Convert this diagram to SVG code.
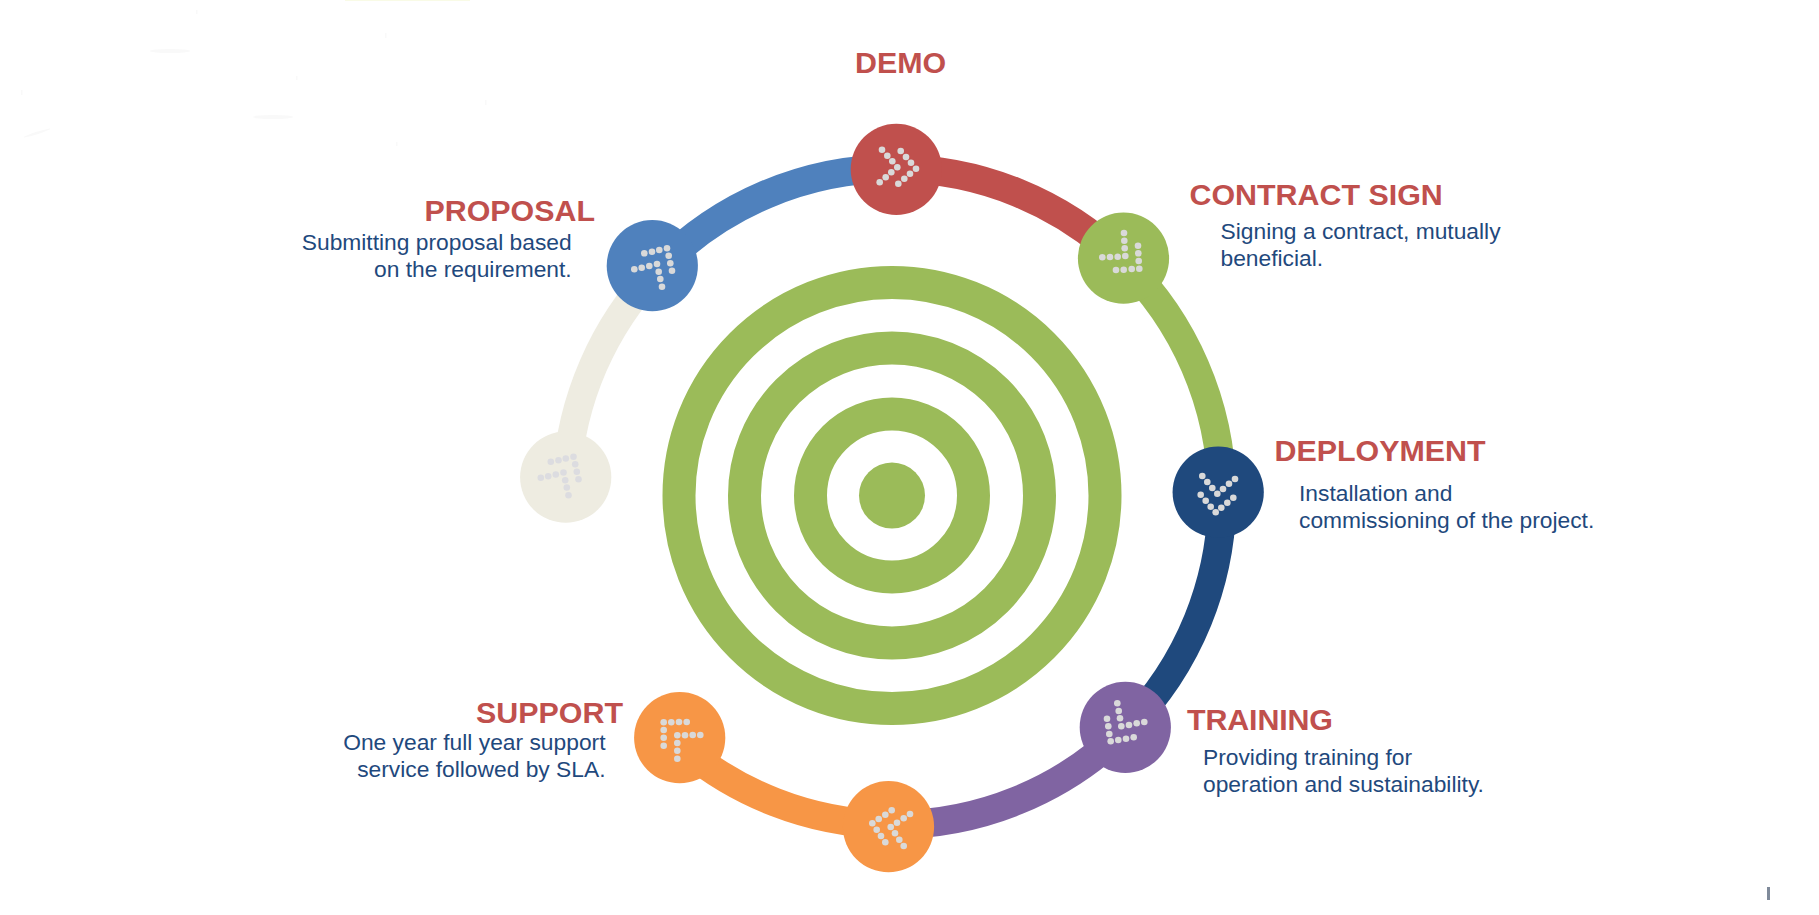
<svg xmlns="http://www.w3.org/2000/svg" xmlns:xlink="http://www.w3.org/1999/xlink" width="1819" height="915" viewBox="0 0 1819 915">
<style>
text{font-family:"Liberation Sans",Arial,sans-serif}
.t{font-size:30.4px;font-weight:700;fill:#c0504d}
.b{font-size:22.8px;fill:#1f497d}
.e{text-anchor:end}
.arc{fill:none;stroke-width:28.7}
.ring{fill:none;stroke:#9bbb59;stroke-width:33}
.dots{fill:#d9d9d9}
</style>
<defs>
<g id="dots-proposal"><circle cx="634.3" cy="269.3" r="3.3"/><circle cx="641.7" cy="267.7" r="3.3"/><circle cx="649.3" cy="266" r="3.3"/><circle cx="657" cy="264" r="3.3"/><circle cx="658.7" cy="271.7" r="3.3"/><circle cx="660.3" cy="279" r="3.3"/><circle cx="662" cy="286.7" r="3.3"/><circle cx="644.3" cy="253.3" r="3.3"/><circle cx="652" cy="251.7" r="3.3"/><circle cx="659.3" cy="250" r="3.3"/><circle cx="667" cy="248.3" r="3.3"/><circle cx="668.7" cy="255.7" r="3.3"/><circle cx="670.3" cy="263.3" r="3.3"/><circle cx="672" cy="270.7" r="3.3"/></g>
</defs>
<rect width="1819" height="915" fill="#fff"/>
<g id="paper-marks" fill="#f9f9f9">
<ellipse cx="170" cy="51" rx="20" ry="2"/>
<ellipse cx="273" cy="117" rx="20" ry="2"/>
<ellipse cx="37" cy="133" rx="14" ry="1.2" transform="rotate(-18 37 133)"/>
<rect x="196" y="10" width="1.5" height="4"/>
<rect x="296" y="76" width="1.5" height="4"/>
<rect x="385" y="33" width="1.5" height="5"/>
<rect x="485" y="100" width="1.5" height="5"/>
<rect x="396" y="142" width="1.5" height="4"/>
<rect x="21" y="90" width="1.5" height="5"/>
</g>
<g id="rings">
<circle class="ring" cx="892" cy="495.5" r="213"/>
<circle class="ring" cx="892" cy="495.5" r="147.5"/>
<circle class="ring" cx="892" cy="495.5" r="81.5"/>
<circle cx="892" cy="495.5" r="33" fill="#9bbb59"/>
</g>
<g id="connectors">
<path class="arc" stroke="#eeece1" d="M656.8 270A328 328 0 0 0 566.6 477.3"/>
<path class="arc" stroke="#4f81bd" d="M896.3 168.5A328 328 0 0 0 656.8 270"/>
<path class="arc" stroke="#c0504d" d="M896.3 168.5A328 328 0 0 1 1121.5 260.2"/>
<path class="arc" stroke="#9bbb59" d="M1121.5 260.2A328 328 0 0 1 1222 492.1"/>
<path class="arc" stroke="#1f497d" d="M1222 492.1A328 328 0 0 1 1126.2 728.2"/>
<path class="arc" stroke="#8064a2" d="M1126.2 728.2A328 328 0 0 1 888.5 824.5"/>
<path class="arc" stroke="#f79646" d="M888.5 824.5A328 328 0 0 1 676.1 741.7"/>
</g>
<g id="node-start">
<circle cx="565.7" cy="477.2" r="45.6" fill="#eeece1"/>
<use xlink:href="#dots-proposal" href="#dots-proposal" transform="translate(-93.5 208.5)" fill="#dcdce0"/>
</g>
<g id="node-proposal">
<circle cx="652.3" cy="265.7" r="45.6" fill="#4f81bd"/>
<use xlink:href="#dots-proposal" href="#dots-proposal" class="dots"/>
<text class="t e" x="595" y="221.2">PROPOSAL</text>
<text class="b e" x="571.7" y="249.8">Submitting proposal based</text>
<text class="b e" x="571.7" y="277">on the requirement.</text>
</g>
<g id="node-demo">
<circle cx="896.3" cy="169.3" r="45.6" fill="#c0504d"/>
<g class="dots"><circle cx="882" cy="149.7" r="3.3"/><circle cx="887.3" cy="155.7" r="3.3"/><circle cx="892.3" cy="161.3" r="3.3"/><circle cx="897.3" cy="167.3" r="3.3"/><circle cx="891.3" cy="172.3" r="3.3"/><circle cx="885.7" cy="177.3" r="3.3"/><circle cx="879.7" cy="182.3" r="3.3"/><circle cx="900.7" cy="151" r="3.3"/><circle cx="906" cy="157" r="3.3"/><circle cx="911" cy="162.7" r="3.3"/><circle cx="916" cy="168.7" r="3.3"/><circle cx="910" cy="173.7" r="3.3"/><circle cx="904.3" cy="178.7" r="3.3"/><circle cx="898.3" cy="183.7" r="3.3"/></g>
<text class="t" x="855" y="73.3">DEMO</text>
</g>
<g id="node-contract">
<circle cx="1123.5" cy="258.2" r="45.6" fill="#9bbb59"/>
<g class="dots"><circle cx="1124" cy="233" r="3.3"/><circle cx="1124.3" cy="240.7" r="3.3"/><circle cx="1124.7" cy="248.3" r="3.3"/><circle cx="1125.3" cy="256" r="3.3"/><circle cx="1117.7" cy="256.7" r="3.3"/><circle cx="1110" cy="257" r="3.3"/><circle cx="1102.3" cy="257.3" r="3.3"/><circle cx="1138" cy="245.7" r="3.3"/><circle cx="1138.3" cy="253.3" r="3.3"/><circle cx="1138.7" cy="261" r="3.3"/><circle cx="1139.3" cy="268.7" r="3.3"/><circle cx="1131.7" cy="269" r="3.3"/><circle cx="1123.7" cy="269.7" r="3.3"/><circle cx="1116" cy="270" r="3.3"/></g>
<text class="t" x="1189.5" y="205">CONTRACT SIGN</text>
<text class="b" x="1220.5" y="239">Signing a contract, mutually</text>
<text class="b" x="1220.5" y="266">beneficial.</text>
</g>
<g id="node-deployment">
<circle cx="1218.2" cy="492.2" r="45.6" fill="#1f497d"/>
<g class="dots"><circle cx="1202.3" cy="476" r="3.3"/><circle cx="1207.3" cy="482" r="3.3"/><circle cx="1212.3" cy="488" r="3.3"/><circle cx="1217.3" cy="493.7" r="3.3"/><circle cx="1223" cy="489" r="3.3"/><circle cx="1229" cy="483.7" r="3.3"/><circle cx="1235" cy="479" r="3.3"/><circle cx="1200.7" cy="494.7" r="3.3"/><circle cx="1205.7" cy="500.7" r="3.3"/><circle cx="1210.7" cy="506.7" r="3.3"/><circle cx="1215.7" cy="512.3" r="3.3"/><circle cx="1221.3" cy="507.7" r="3.3"/><circle cx="1227.3" cy="502.7" r="3.3"/><circle cx="1233.3" cy="497.7" r="3.3"/></g>
<text class="t" x="1274.5" y="461.2">DEPLOYMENT</text>
<text class="b" x="1299" y="501">Installation and</text>
<text class="b" x="1299" y="528">commissioning of the project.</text>
</g>
<g id="node-training">
<circle cx="1125.3" cy="727.3" r="45.6" fill="#8064a2"/>
<g class="dots"><circle cx="1117.3" cy="703.3" r="3.3"/><circle cx="1118.7" cy="711" r="3.3"/><circle cx="1120" cy="718.3" r="3.3"/><circle cx="1121.3" cy="726.3" r="3.3"/><circle cx="1129" cy="725" r="3.3"/><circle cx="1136.7" cy="723.3" r="3.3"/><circle cx="1144.3" cy="722" r="3.3"/><circle cx="1107" cy="718.7" r="3.3"/><circle cx="1108.3" cy="726.3" r="3.3"/><circle cx="1109.3" cy="734" r="3.3"/><circle cx="1110.7" cy="741.3" r="3.3"/><circle cx="1118.3" cy="740" r="3.3"/><circle cx="1126" cy="738.7" r="3.3"/><circle cx="1133.7" cy="737.3" r="3.3"/></g>
<text class="t" x="1187" y="729.5" textLength="146" lengthAdjust="spacing">TRAINING</text>
<text class="b" x="1203" y="764.8">Providing training for</text>
<text class="b" x="1203" y="792">operation and sustainability.</text>
</g>
<g id="node-bottom">
<circle cx="888.5" cy="826.7" r="45.6" fill="#f79646"/>
<g class="dots"><circle cx="891.7" cy="810.3" r="3.3"/><circle cx="885.3" cy="814.7" r="3.3"/><circle cx="878.7" cy="819" r="3.3"/><circle cx="872.3" cy="823.3" r="3.3"/><circle cx="876.7" cy="829.7" r="3.3"/><circle cx="881" cy="836" r="3.3"/><circle cx="885.3" cy="842.3" r="3.3"/><circle cx="910" cy="814" r="3.3"/><circle cx="903.7" cy="818.3" r="3.3"/><circle cx="897" cy="822.7" r="3.3"/><circle cx="890.7" cy="827" r="3.3"/><circle cx="895" cy="833.3" r="3.3"/><circle cx="899.3" cy="839.7" r="3.3"/><circle cx="903.7" cy="846" r="3.3"/></g>
</g>
<g id="node-support">
<circle cx="679.7" cy="737.7" r="45.6" fill="#f79646"/>
<g class="dots"><circle cx="663.7" cy="722.3" r="3.3"/><circle cx="671.3" cy="722.3" r="3.3"/><circle cx="679" cy="722" r="3.3"/><circle cx="686.7" cy="722" r="3.3"/><circle cx="663.7" cy="730" r="3.3"/><circle cx="663.7" cy="737.7" r="3.3"/><circle cx="663.7" cy="745.7" r="3.3"/><circle cx="677.3" cy="735.3" r="3.3"/><circle cx="685" cy="735.3" r="3.3"/><circle cx="692.7" cy="735" r="3.3"/><circle cx="700.3" cy="735" r="3.3"/><circle cx="677.3" cy="743" r="3.3"/><circle cx="677.3" cy="750.7" r="3.3"/><circle cx="677.3" cy="758.7" r="3.3"/></g>
<text class="t e" x="623" y="722.5">SUPPORT</text>
<text class="b e" x="605.5" y="750.2">One year full year support</text>
<text class="b e" x="605.5" y="777">service followed by SLA.</text>
</g>
<rect id="edge-tick" x="1767" y="887" width="3" height="13" fill="#7f8a9a"/>
<rect id="top-edge" x="345" y="0" width="125" height="1" fill="#f9fbe6"/>
</svg>
